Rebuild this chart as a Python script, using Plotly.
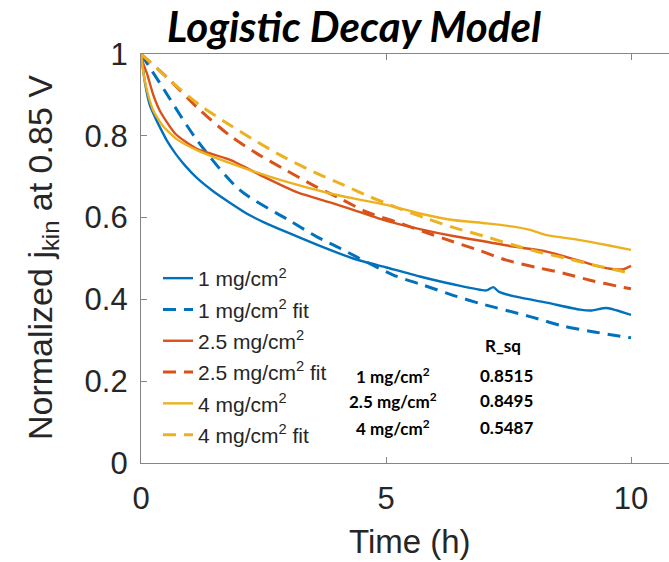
import plotly.graph_objects as go

# Normalized kinetic current density at 0.85 V vs. time, for three catalyst loadings
t_1 = [0, 0.04, 0.08, 0.18, 0.3, 0.39, 0.52, 0.7, 0.9, 1.14, 1.5, 1.82, 2.2, 2.5, 3.0, 3.65,
       4.33, 5.01, 5.69, 6.37, 7.05, 7.19, 7.3, 7.6, 8.28, 8.96, 9.2, 9.5, 10.0]
y_1 = [1.0, 0.965, 0.93, 0.875, 0.842, 0.82, 0.79, 0.757, 0.727, 0.697, 0.662, 0.636, 0.607,
       0.589, 0.563, 0.531, 0.5, 0.478, 0.456, 0.437, 0.422, 0.43, 0.419, 0.408, 0.392,
       0.375, 0.373, 0.379, 0.362]

t_1_fit = [0, 0.39, 1.14, 2.02, 3.0, 3.59, 4.06, 5.14, 5.76, 6.37, 6.92, 7.94, 8.61, 9.22, 10.0]
y_1_fit = [1.0, 0.928, 0.79, 0.667, 0.595, 0.553, 0.525, 0.46, 0.435, 0.41, 0.39, 0.358,
           0.335, 0.321, 0.306]

t_25 = [0, 0.05, 0.12, 0.25, 0.39, 0.7, 1.14, 1.82, 2.5, 3.18, 3.86, 4.33, 5.01, 5.69, 6.37,
        7.05, 7.6, 8.28, 8.96, 9.3, 9.64, 9.85, 10.0]
y_25 = [1.0, 0.975, 0.953, 0.9, 0.86, 0.805, 0.768, 0.741, 0.70, 0.662, 0.637, 0.619, 0.592,
        0.572, 0.555, 0.541, 0.529, 0.517, 0.494, 0.482, 0.474, 0.474, 0.482]

t_25_fit = [0, 0.59, 1.2, 1.82, 2.36, 2.9, 3.5, 4.06, 4.6, 5.2, 5.76, 6.37, 6.92, 7.46, 8.08,
            8.62, 9.16, 9.78, 10.0]
y_25_fit = [1.0, 0.936, 0.863, 0.80, 0.757, 0.72, 0.68, 0.647, 0.614, 0.59, 0.566, 0.541,
            0.519, 0.496, 0.478, 0.464, 0.447, 0.431, 0.426]

t_4 = [0, 0.05, 0.12, 0.25, 0.46, 0.75, 1.14, 1.82, 2.84, 3.86, 4.33, 5.01, 5.69, 6.37, 7.05,
       7.6, 7.94, 8.28, 8.96, 9.5, 10.0]
y_4 = [1.0, 0.953, 0.912, 0.862, 0.822, 0.79, 0.765, 0.733, 0.692, 0.659, 0.647, 0.631, 0.61,
       0.594, 0.586, 0.578, 0.57, 0.557, 0.545, 0.533, 0.521]

t_4_fit = [0, 0.18, 0.66, 1.2, 1.82, 2.36, 2.9, 3.52, 4.13, 4.67, 5.25, 5.83, 6.37, 6.99, 7.6,
           8.08, 8.69, 9.23, 9.84, 10.0]
y_4_fit = [1.0, 0.981, 0.928, 0.875, 0.826, 0.786, 0.749, 0.712, 0.68, 0.651, 0.623, 0.598,
           0.576, 0.555, 0.533, 0.517, 0.5, 0.484, 0.468, 0.464]

series_names = ["1 mg/cm<sup>2</sup>", "2.5 mg/cm<sup>2</sup>", "4 mg/cm<sup>2</sup>"]
r_sq_values = ["0.8515", "0.8495", "0.5487"]

x_ticks = [0, 5, 10]
y_ticks = [0, 0.2, 0.4, 0.6, 0.8, 1]
y_tick_text = ["0", "0.2", "0.4", "0.6", "0.8", "1"]

colors = ["#0072BD", "#D95319", "#EDB120"]
measured = [(t_1, y_1), (t_25, y_25), (t_4, y_4)]
fitted = [(t_1_fit, y_1_fit), (t_25_fit, y_25_fit), (t_4_fit, y_4_fit)]

fig = go.Figure()
k = 0
for name, color, (tm, ym), (tf, yf) in zip(series_names, colors, measured, fitted):
    fig.add_trace(go.Scatter(
        x=tm, y=ym, mode="lines", name=name, legendgroup=f"g{k}",
        line=dict(color=color, width=2.4, shape="spline", smoothing=0.6),
    ))
    fig.add_trace(go.Scatter(
        x=tf, y=yf, mode="lines", name=name + " fit", legendgroup=f"g{k + 1}",
        line=dict(color=color, width=3, dash="13px,8px", shape="spline", smoothing=0.8),
    ))
    k += 2

label_family = "Liberation Sans, Arial, sans-serif"
axis_font = dict(family=label_family, size=31, color="#262626")

fig.update_layout(
    width=669, height=562,
    margin=dict(l=141, r=0, t=54, b=99),
    paper_bgcolor="white", plot_bgcolor="white",
    title=dict(
        text="<b><i>Logistic Decay Model</i></b>",
        font=dict(family="Lato, sans-serif", size=42, color="black"),
        xref="container", x=354 / 669, xanchor="center",
        yref="container", y=1 - 27 / 562, yanchor="middle",
    ),
    xaxis=dict(
        range=[0, 528 / 49], tickvals=x_ticks, ticktext=[str(v) for v in x_ticks],
        showgrid=False, zeroline=False, showline=True, linecolor="#868686", linewidth=1.2,
        mirror="ticks", ticks="inside", ticklen=6, tickcolor="#868686",
        tickfont=axis_font, ticklabelstandoff=8,
    ),
    yaxis=dict(
        range=[0, 1], tickvals=y_ticks, ticktext=y_tick_text,
        showgrid=False, zeroline=False, showline=True, linecolor="#868686", linewidth=1.2,
        ticks="inside", ticklen=6, tickcolor="#868686",
        tickfont=axis_font, ticklabelstandoff=6,
    ),
    legend=dict(
        x=(158 - 141) / 528, xanchor="left",
        y=(463 - 258) / 409, yanchor="top",
        bgcolor="rgba(0,0,0,0)",
        font=dict(family=label_family, size=21, color="#262626"),
        tracegroupgap=1,
    ),
    showlegend=True,
)


def px_x(px):
    return (px - 141) / 528


def px_y(py):
    return (463 - py) / 409


# axis titles
fig.add_annotation(
    text="Time (h)", xref="paper", yref="paper",
    x=px_x(410), y=px_y(541), xanchor="center", yanchor="middle",
    showarrow=False, font=dict(family=label_family, size=33, color="#262626"),
)
fig.add_annotation(
    text="Normalized j<sub>kin</sub> at 0.85 V", xref="paper", yref="paper",
    x=px_x(42), y=px_y(258), xanchor="center", yanchor="middle", textangle=-90,
    showarrow=False, font=dict(family=label_family, size=34, color="#262626"),
)

# Goodness-of-fit table
table_font = dict(family="Lato, sans-serif", size=17, color="black")
fig.add_annotation(text="<b>R_sq</b>", x=px_x(503), y=px_y(345), xref="x domain",
                   yref="y domain", xanchor="center", yanchor="middle",
                   showarrow=False, font=table_font)
row_y = [375, 400, 427]
for label, val, py in zip(series_names, r_sq_values, row_y):
    fig.add_annotation(text="<b>" + label + "</b>", x=px_x(393), y=px_y(py),
                       xref="x domain", yref="y domain", xanchor="center",
                       yanchor="middle", showarrow=False, font=table_font)
    fig.add_annotation(text="<b>" + val + "</b>", x=px_x(506), y=px_y(py),
                       xref="x domain", yref="y domain", xanchor="center",
                       yanchor="middle", showarrow=False, font=table_font)

fig.write_html("out.html")
